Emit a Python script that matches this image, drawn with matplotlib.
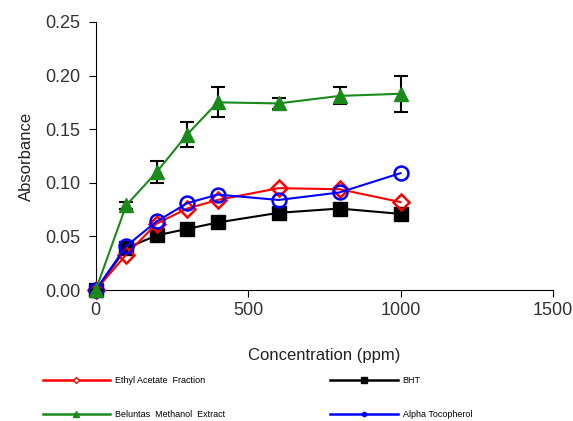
import matplotlib.pyplot as plt
import numpy as np
from matplotlib.lines import Line2D

plt.rcParams['font.family'] = ['Liberation Sans', 'DejaVu Sans']

conc = [0, 100, 200, 300, 400, 600, 800, 1000]
ethyl = [0.0, 0.033, 0.062, 0.076, 0.084, 0.095, 0.094, 0.082]
bht = [0.0, 0.039, 0.051, 0.057, 0.063, 0.072, 0.076, 0.071]
beluntas = [0.0, 0.079, 0.110, 0.145, 0.175, 0.174, 0.181, 0.183]
beluntas_err = [0.0, 0.003, 0.010, 0.012, 0.014, 0.005, 0.008, 0.017]
alpha = [0.0, 0.041, 0.064, 0.081, 0.089, 0.084, 0.091, 0.109]

labels = ['Ethyl Acetate  Fraction', 'BHT',
          'Beluntas  Methanol  Extract', 'Alpha Tocopherol']

fig = plt.figure(figsize=(5.73, 4.21), dpi=100)
ax = fig.add_axes([0.167, 0.311, 0.798, 0.637])

ax.plot(conc, bht, color='black', marker='s', ms=10, lw=1.5, zorder=3)
ax.plot(conc, ethyl, color='red', marker='D', ms=8, mfc='none', mew=1.8,
        lw=1.5, zorder=4)
ax.plot(conc, alpha, color='blue', marker='o', ms=10, mfc='none', mew=1.8,
        lw=1.5, zorder=5)
ax.errorbar(conc, beluntas, yerr=beluntas_err, fmt='none', ecolor='black',
            elinewidth=1.5, capsize=5, capthick=1.5, zorder=6)
ax.plot(conc, beluntas, color='#1a8a1a', marker='^', ms=10, lw=1.5, zorder=7)

ax.set_xlim(0, 1500)
ax.set_ylim(0, 0.25)
ax.set_xticks([0, 500, 1000, 1500])
ax.set_yticks(np.arange(0, 0.26, 0.05))
ax.yaxis.set_major_formatter(plt.FormatStrFormatter('%.2f'))
for s in ['top', 'right']:
    ax.spines[s].set_visible(False)
ax.tick_params(labelsize=13, direction='out', length=5, colors='black',
               labelcolor='#333333')
ax.tick_params(axis='y', pad=6)
ax.set_xlabel('Concentration (ppm)', fontsize=12, labelpad=21, color='#222222')
ax.set_ylabel('Absorbance', fontsize=12, labelpad=8, color='#222222')
for ln in ax.lines:
    ln.set_clip_on(False)

h_eth = Line2D([], [], color='red', marker='D', ms=3, mfc='white', lw=1.8)
h_bht = Line2D([], [], color='black', marker='s', ms=4, lw=1.8)
h_bel = Line2D([], [], color='#1a8a1a', marker='^', ms=4, lw=1.8)
h_alp = Line2D([], [], color='blue', marker='o', ms=3, lw=1.8)
fig.legend([h_eth, h_bel, h_bht, h_alp],
           [labels[0], labels[2], labels[1], labels[3]],
           ncol=2, frameon=False, fontsize=6.5, handlelength=7.5,
           loc='lower left', bbox_to_anchor=(0.06, -0.015),
           columnspacing=11.7, labelspacing=2.8, handletextpad=0.5)

fig.savefig('out.png', dpi=100)
